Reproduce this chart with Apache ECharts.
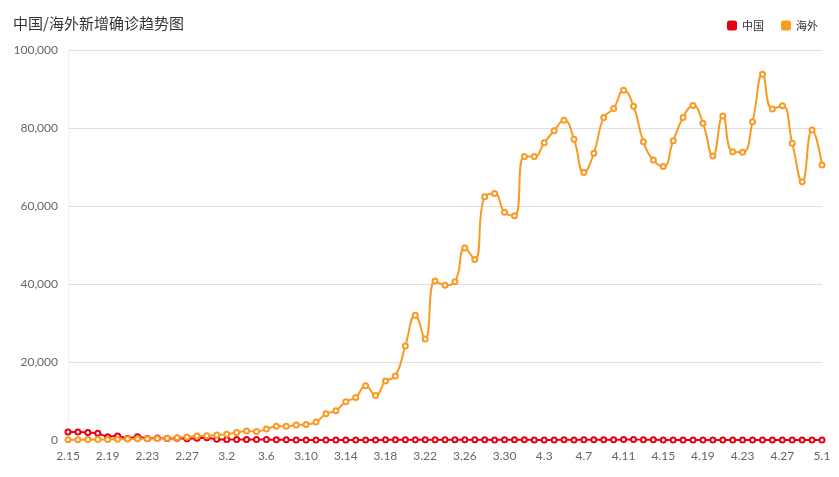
<!DOCTYPE html>
<html><head><meta charset="utf-8">
<script src="https://cdn.jsdelivr.net/npm/echarts@6/dist/echarts.min.js"></script>
<style>html,body{margin:0;padding:0;background:#fff}#c{width:839px;height:477px}</style>
</head><body><div id="c"></div>
<script>
var dates = ['2.15','2.16','2.17','2.18','2.19','2.20','2.21','2.22','2.23','2.24','2.25','2.26','2.27','2.28','2.29',
'3.1','3.2','3.3','3.4','3.5','3.6','3.7','3.8','3.9','3.10','3.11','3.12','3.13','3.14','3.15','3.16','3.17','3.18','3.19','3.20','3.21','3.22','3.23','3.24','3.25','3.26','3.27','3.28','3.29','3.30','3.31',
'4.1','4.2','4.3','4.4','4.5','4.6','4.7','4.8','4.9','4.10','4.11','4.12','4.13','4.14','4.15','4.16','4.17','4.18','4.19','4.20','4.21','4.22','4.23','4.24','4.25','4.26','4.27','4.28','4.29','4.30','5.1'];
var china = [2050,2050,1900,1750,850,1050,400,850,400,500,400,430,330,450,570,
200,125,120,140,145,100,45,40,20,25,15,10,11,20,16,21,13,34,39,41,46,39,78,47,67,55,54,45,31,48,36,
35,31,19,30,39,32,62,63,42,46,99,108,89,46,26,27,26,16,12,11,30,10,6,12,11,3,6,22,4,4,12];
var overseas = [50,80,100,100,150,200,250,300,350,400,450,550,800,1000,1100,
1300,1500,1900,2300,2200,2800,3500,3500,3850,4000,4600,6700,7500,9800,10900,13900,11400,15100,16400,24100,32000,25900,40800,39700,40600,49200,46300,62400,63200,58400,57500,
72700,72700,76200,79300,82000,77100,68600,73500,82700,85000,89700,85600,76500,71800,70100,76700,82700,85800,81200,72800,83100,73900,73800,81600,93800,84900,85700,76100,66200,79500,70500];
var yTicks = {min: 0, max: 100000, interval: 20000};

var chart = echarts.init(document.getElementById('c'));
chart.setOption({
  animation: false,
  title: {text: '中国/海外新增确诊趋势图', left: 8, top: 11,
    textStyle: {fontSize: 15, fontWeight: 'normal', color: '#333', fontFamily: 'Noto Sans CJK SC'}},
  legend: {right: 16, top: 15, itemWidth: 10, itemHeight: 10, itemGap: 17, icon: 'roundRect',
    textStyle: {fontSize: 11, color: '#333', fontFamily: 'Noto Sans CJK SC'},
    data: ['中国', '海外']},
  grid: {left: 68, right: 17, top: 50, bottom: 37},
  xAxis: {type: 'category', boundaryGap: false, data: dates,
    axisLine: {show: true, lineStyle: {color: '#eee'}}, axisTick: {show: false},
    axisLabel: {interval: 3, color: '#666', fontSize: 12, margin: 10, fontFamily: 'Lato'}},
  yAxis: {type: 'value', min: yTicks.min, max: yTicks.max, interval: yTicks.interval,
    axisLine: {show: true, lineStyle: {color: '#f0f0f0'}}, axisTick: {show: false},
    axisLabel: {color: '#666', fontSize: 12, margin: 10, fontFamily: 'Lato'},
    splitLine: {lineStyle: {color: '#e0e0e0'}}},
  series: [
    {name: '中国', type: 'line', data: china, smooth: true, symbol: 'emptyCircle', symbolSize: 5,
      itemStyle: {color: '#e60012'}, lineStyle: {width: 2, color: '#e60012'}},
    {name: '海外', type: 'line', data: overseas, smooth: true, symbol: 'emptyCircle', symbolSize: 5,
      itemStyle: {color: '#f99a25'}, lineStyle: {width: 2, color: '#f99a25'}}
  ]
});
</script></body></html>
